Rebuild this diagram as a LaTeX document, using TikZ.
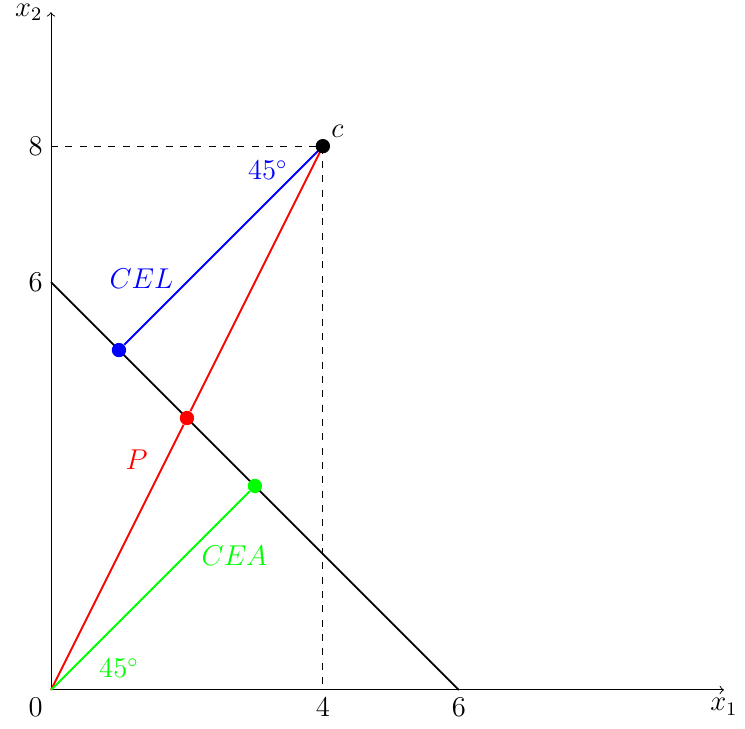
\documentclass[tikz,border=0pt]{standalone}
\usepackage{amsmath,amssymb}
\usepackage{tikz}

\begin{document}
\begin{tikzpicture}[every node/.style={font=\large}, dot/.style={circle, fill, inner sep=0pt, minimum size=6pt}]
	\useasboundingbox (-0.75,-0.574) rectangle (10.21,10.15);
	% axes
	\coordinate (O) at (0,0);
	\coordinate (xend) at (9.9,0);
	\coordinate (yend) at (0,9.97);
	\draw[->] (O) -- (xend) node[below] {$x_1$};
	\draw[->] (O) -- (yend) node[left] {$x_2$};
	\node[below left] at (O) {$0$};
	\node[below] at (4,0) {$4$};
	\node[below] at (6,0) {$6$};
	\node[left] at (0,8) {$8$};
	\node[left] at (0,6) {$6$};
	% budget line and claims point
	\coordinate (c) at (4,8);
	\coordinate (c1) at (4,0);
	\coordinate (c2) at (0,8);
	\coordinate (e1) at (6,0);
	\coordinate (e2) at (0,6);
	\draw[dashed] (c2) -- (c) -- (c1);
	\draw[thick] (e2) -- (e1);
	\node[dot, blue] (cel) at (1,5) {};
	\node[dot, red] (p) at (2,4) {};
	\node[dot, green] (cea) at (3,3) {};
	\draw[thick, blue] (cel) -- (c);
	\draw[thick, red] (O) -- (p) -- (c);
	\draw[thick, green] (O) -- (cea);
	\node[dot] (cdot) at (c) {};
	\node[above right] at (c) {$c$};
	% labels
	\node[blue] at (1.33,6.05) {$CEL$};
	\node[blue] at (3.19,7.65) {$45^\circ$};
	\node[red] at (1.26,3.38) {$P$};
	\node[green] at (2.7,1.97) {$CEA$};
	\node[green] at (1.0,0.32) {$45^\circ$};
\end{tikzpicture}
\end{document}
